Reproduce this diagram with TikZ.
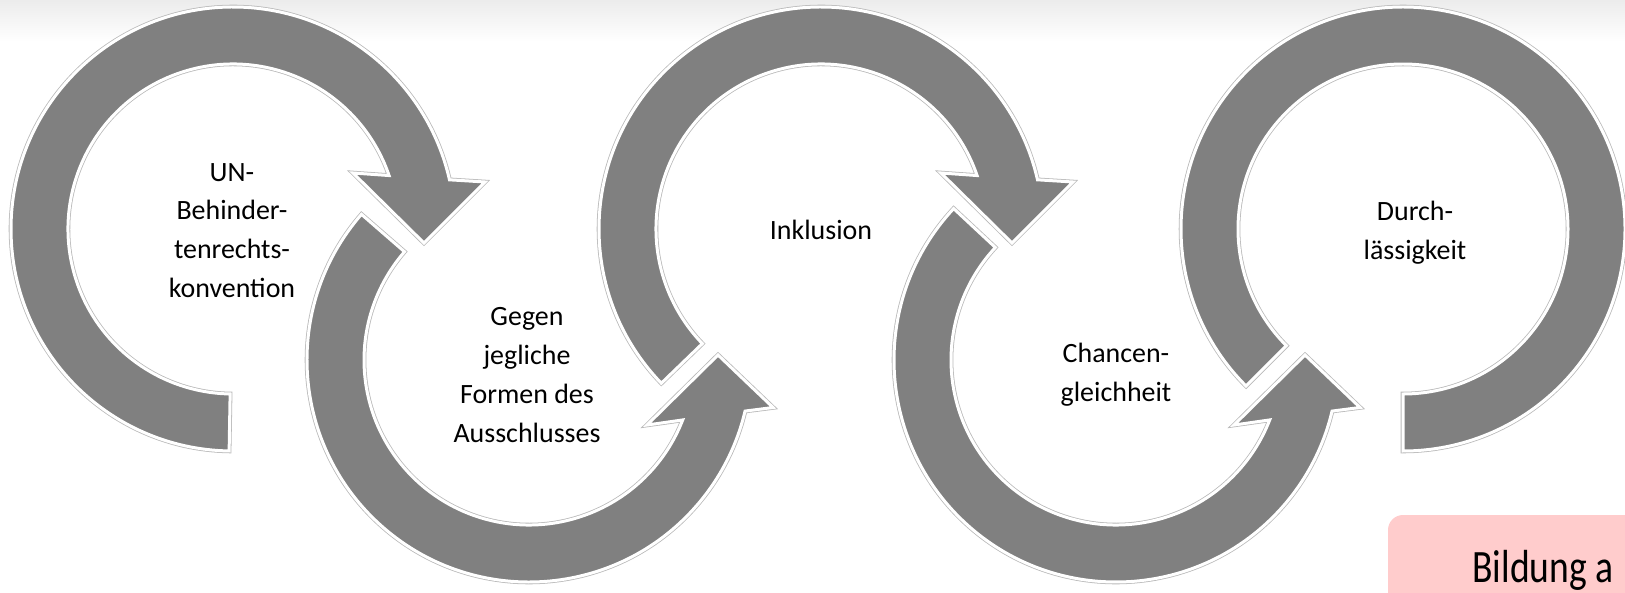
\documentclass[tikz,border=0pt]{standalone}
\usepackage{fontspec}
\setmainfont{Carlito}

\definecolor{arrowgray}{RGB}{128,128,128}
\definecolor{boxpink}{RGB}{255,204,204}

\begin{document}
\begin{tikzpicture}[x=0.02cm, y=0.02cm,
	ring/.style={fill=arrowgray, draw=white, line width=1.7pt, line join=miter, preaction={draw=gray!55, line width=2.6pt}},
	circletext/.style={align=center, inner sep=0pt, font=\fontsize{15.9}{22.1}\selectfont}]
	%page frame
	\useasboundingbox (0,0) rectangle (1625,592);
	\clip (0,0) rectangle (1625,592);
	\shade[top color=gray!15, bottom color=white] (0,550) rectangle (1625,592);
	
	%upper arrows, clockwise, tail angle
	\foreach \cx/\cy/\ta in {233/363/269, 821/363/224} {
		\begin{scope}[shift={(\cx,\cy)}]
			\path[ring] (\ta:222) arc[start angle=\ta, end angle=12.8, radius=222]
				-- (252,47) -- (191,-14) -- (120,56)
				-- (18.9:165) arc[start angle=18.9, end angle=\ta, radius=165] -- cycle;
		\end{scope}
	}
	
	%lower arrows, counter-clockwise
	\foreach \cx/\cy/\ta in {529/232/139, 1116/232/137} {
		\begin{scope}[shift={(\cx,\cy)}]
			\path[ring] (\ta:222) arc[start angle=\ta, end angle=346.7, radius=222]
				-- (244,-47.5) -- (189,5) -- (118,-65)
				-- (338.7:165) arc[start angle=338.7, end angle=\ta, radius=165] -- cycle;
		\end{scope}
	}
	
	%last ring, no head
	\begin{scope}[shift={(1403,363)}]
		\path[ring] (225:222) arc[start angle=225, end angle=-90, radius=222]
			-- (-90:165) arc[start angle=-90, end angle=225, radius=165] -- cycle;
	\end{scope}
	
	%labels
	\node[circletext] (un) at (232,361.5) {UN-\\Behinder-\\tenrechts-\\konvention};
	\node[circletext] (gegen) at (527,217) {Gegen\\jegliche\\Formen des\\Ausschlusses};
	\node[circletext] (inklusion) at (821,362) {Inklusion};
	\node[circletext] (chancen) at (1116,217) {Chancen-\\gleichheit};
	\node[circletext] (durch) at (1415,359.5) {Durch-\\lässigkeit};
	
	%pink box, cut at the edge
	\fill[boxpink, rounded corners=0.3cm] (1388,-20) -- (1388,77) -- (1660,77) -- (1660,-20) -- cycle;
	\node[anchor=base west, inner sep=0pt, font=\fontsize{26.4}{30}\selectfont] (bildung) at (1472,10) {\scalebox{0.81}[1]{Bildung a}};
\end{tikzpicture}
\end{document}
